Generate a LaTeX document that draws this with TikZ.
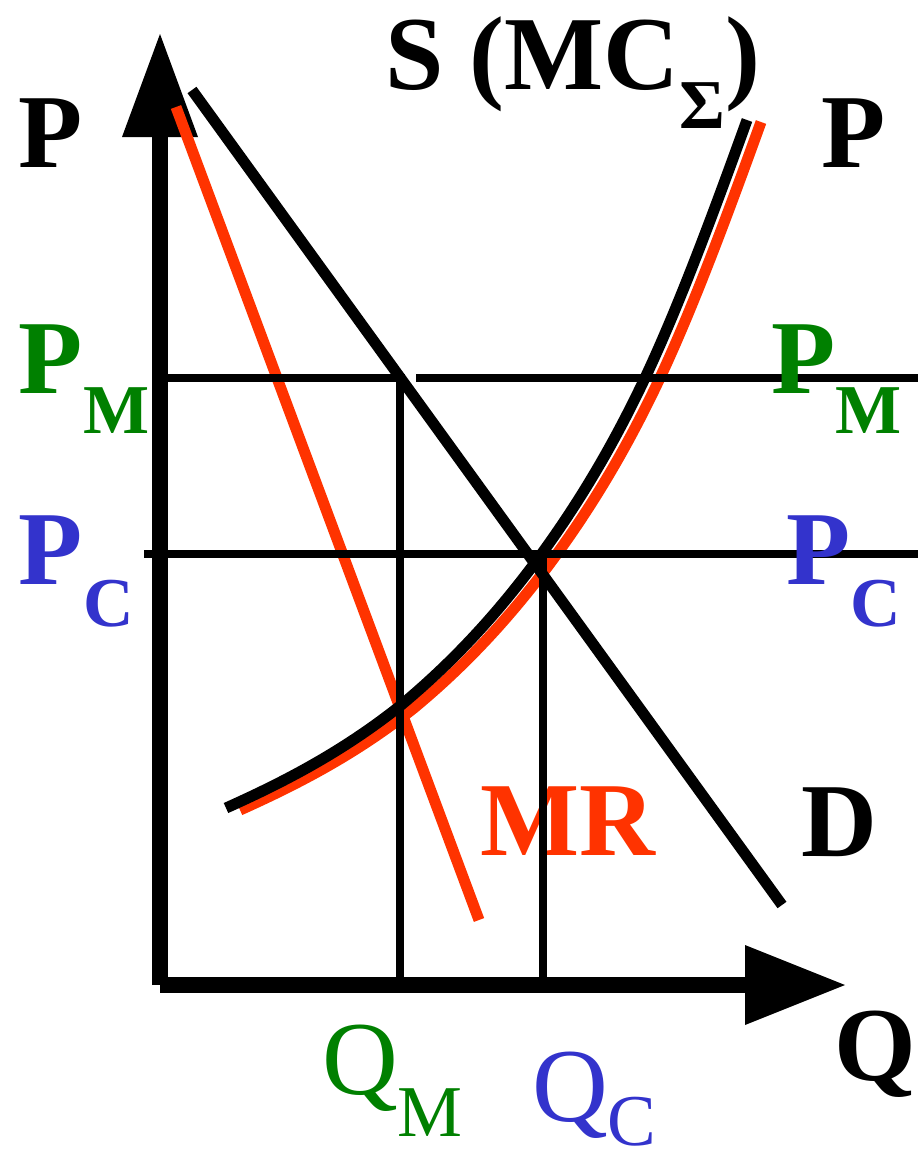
\documentclass[tikz,border=0pt]{standalone}
\usepackage{fontspec}
\setmainfont{Liberation Serif}
\definecolor{pgreen}{RGB}{0,128,0}
\definecolor{pblue}{RGB}{51,51,204}
\definecolor{pred}{RGB}{255,51,0}
\newcommand\lblbig{\fontsize{105}{105}\selectfont}
\newcommand\lblsub{\fontsize{70}{70}\selectfont}
\newcommand\lblsubr{\fontsize{73}{73}\selectfont}
\begin{document}
\begin{tikzpicture}[x=1pt,y=-1pt,
  axisline/.style={line width=16pt},
  guide/.style={line width=7.5pt},
  curveline/.style={line width=11pt},
  headfill/.style={fill=black},
  lbl/.style={anchor=base west, inner sep=0pt, outer sep=0pt, font=\lblbig\bfseries},
  lblreg/.style={anchor=base west, inner sep=0pt, outer sep=0pt, font=\lblbig},
  mcpath/.style={insert path={(226,808) .. controls (284,782) and (342,752) .. (400,706)
      .. controls (447,667) and (493,620) .. (540,556)
      .. controls (575,508) and (610,452) .. (645,378)
      .. controls (678,308) and (712,217) .. (747,120)}},
]
\useasboundingbox (0,0) rectangle (918,1154);

% coordinates
\coordinate (O) at (160,985);
\coordinate (Ytop) at (160,137);
\coordinate (Xend) at (745,985);

% axes
\draw[axisline] (O) -- (Ytop);
\fill[headfill] (122,137) -- (198,137) -- (160,34) -- cycle;
\draw[axisline] (O) -- (Xend);
\fill[headfill] (745,945) -- (745,1025) -- (845,985) -- cycle;

% red curves
\coordinate (mrA) at (176,107);
\coordinate (mrB) at (479,920);
\draw[curveline, pred] (mrA) -- (mrB);
\begin{scope}[shift={(14,2)}]
\draw[curveline, pred, mcpath];
\end{scope}

% MR label
\node[lbl, text=pred] (mr) at (480,855) {MR};

% guide lines
\coordinate (pmA) at (168,378);
\coordinate (pmB) at (405,378);
\coordinate (pmC) at (416,378);
\coordinate (pmD) at (918,378);
\coordinate (pcA) at (144,554);
\coordinate (pcB) at (918,554);
\coordinate (qmT) at (400,382);
\coordinate (qmB) at (400,985);
\coordinate (qcT) at (543,556);
\coordinate (qcB) at (543,985);
\draw[guide] (pmA) -- (pmB);
\draw[guide] (pmC) -- (pmD);
\draw[guide] (pcA) -- (pcB);
\draw[line width=8pt] (qmT) -- (qmB);
\draw[line width=8pt] (qcT) -- (qcB);

% demand
\coordinate (dA) at (192,90);
\coordinate (dB) at (782,905);
\draw[curveline] (dA) -- (dB);

% supply (black)
\draw[curveline, mcpath];

% labels
\node[lbl] (pl) at (19,167) {P};
\node[lbl] (pr) at (821,167) {P};
\node[lbl] (s) at (385,89) {S (MC\raisebox{-39pt}{\lblsub Σ})};
\node[lbl, text=pgreen] (pml) at (19,393) {P\raisebox{-40pt}{\lblsub M}};
\node[lbl, text=pgreen] (pmr) at (771,393) {P\raisebox{-40pt}{\lblsub M}};
\node[lbl, text=pblue] (pcl) at (19,584) {P\raisebox{-42pt}{\lblsub C}};
\node[lbl, text=pblue] (pcr) at (786,584) {P\raisebox{-42pt}{\lblsub C}};
\node[lbl] (d) at (801,856) {D};
\node[lbl] (q) at (834,1080) {Q};
\node[lblreg, text=pgreen] (qm) at (322,1094) {Q\raisebox{-42pt}{\lblsubr M}};
\node[lblreg, text=pblue] (qc) at (532,1121) {Q\raisebox{-24pt}{\lblsubr C}};
\end{tikzpicture}
\end{document}
